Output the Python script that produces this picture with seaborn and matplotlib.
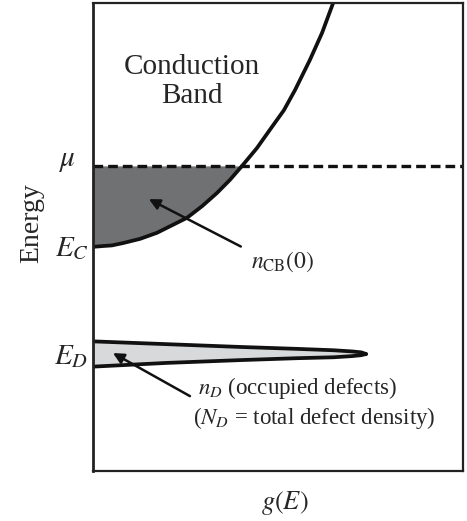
import numpy as np
import matplotlib
matplotlib.use("Agg")
import matplotlib.pyplot as plt
import seaborn as sns

# energy levels (axis units: bottom of box = 0, top = 1)
E_C = 0.479
MU = 0.652
E_D = 0.25

# conduction band density of states
cb_g = [0.0, 0.032, 0.051, 0.081, 0.127, 0.173, 0.254, 0.295, 0.335, 0.370, 0.403,
        0.443, 0.478, 0.516, 0.546, 0.586, 0.619, 0.649]
cb_E = [0.479, 0.481, 0.482, 0.487, 0.496, 0.509, 0.541, 0.566, 0.594, 0.622, 0.652,
        0.690, 0.729, 0.771, 0.814, 0.878, 0.936, 1.0]

# narrow defect peak around E_D (upper and lower edge)
def_g = [0.0, 0.2, 0.4, 0.55, 0.65, 0.70, 0.725, 0.738]
def_top = [0.277, 0.271, 0.265, 0.261, 0.258, 0.2555, 0.2535, 0.25]
def_bot = [0.223, 0.231, 0.237, 0.241, 0.243, 0.2455, 0.2475, 0.25]

sns.set_theme(style="white")
plt.rcParams["font.family"] = ["Liberation Serif", "DejaVu Serif"]
plt.rcParams["mathtext.fontset"] = "stix"
plt.rcParams["lines.solid_joinstyle"] = "round"
plt.rcParams["lines.solid_capstyle"] = "round"

fig = plt.figure(figsize=(4.67, 5.21), dpi=100)
ax = fig.add_axes([93 / 467, 50 / 521, 370 / 467, 468 / 521])

# filled electrons below mu in the conduction band
g_arr = np.array(cb_g)
E_arr = np.array(cb_E)
below = E_arr <= MU + 1e-9
ax.fill_betweenx(E_arr[below], 0, g_arr[below], color="#707173", lw=0)

# defect band
ax.fill_between(def_g, def_bot, def_top, color="#d8d9db", lw=0)
sns.lineplot(x=def_g, y=def_top, ax=ax, color="#111111", lw=2.7, sort=False)
sns.lineplot(x=def_g, y=def_bot, ax=ax, color="#111111", lw=2.7, sort=False)

# DOS curve
sns.lineplot(x=cb_g, y=cb_E, ax=ax, color="#111111", lw=2.7, sort=False)

# chemical potential
ax.axhline(MU, color="#111111", lw=2.4, ls=(0, (2.9, 1.5)))

ax.set_xlim(0, 1)
ax.set_ylim(0, 1)
ax.set_xticks([])
ax.set_yticks([])
for s in ax.spines.values():
    s.set_visible(True)
    s.set_color("#222222")
    s.set_linewidth(1.6)
ax.spines["left"].set_linewidth(2.0)

ax.set_xlabel("$g(E)$", fontsize=19)
ax.xaxis.set_label_coords(0.519, -0.038)
ax.set_ylabel("Energy", fontsize=20, va="center")
ax.yaxis.set_label_coords(-0.165, 0.53)

# level labels to the left of the box
trans = ax.get_yaxis_transform()
ax.text(-0.07, MU + 0.01, r"$\mu$", transform=trans, fontsize=21, ha="center", va="center")
ax.text(-0.058, E_C - 0.005, r"$E_C$", transform=trans, fontsize=21, ha="center", va="center")
ax.text(-0.058, E_D - 0.005, r"$E_D$", transform=trans, fontsize=21, ha="center", va="center")

ax.text(0.268, 0.833, "Conduction\nBand", fontsize=21, ha="center", va="center", linespacing=1.15)

ax.annotate(r"$n_{\mathrm{CB}}(0)$", xy=(0.151, 0.581), xytext=(0.514, 0.447),
            fontsize=17, ha="center", va="center",
            arrowprops=dict(arrowstyle="-|>", color="#111111", lw=1.8,
                            mutation_scale=16, shrinkA=6, shrinkB=0,
                            relpos=(0.0, 0.9)))

ax.annotate("", xy=(0.054, 0.252), xytext=(0.262, 0.160),
            arrowprops=dict(arrowstyle="-|>", color="#111111", lw=1.8,
                            mutation_scale=16, shrinkA=0, shrinkB=0))
ax.text(0.284, 0.177, r"$n_D$ (occupied defects)", fontsize=16.5, ha="left", va="center")
ax.text(0.27, 0.113, r"($N_D$ = total defect density)", fontsize=16.5, ha="left", va="center")

fig.savefig("out.png", dpi=100)
